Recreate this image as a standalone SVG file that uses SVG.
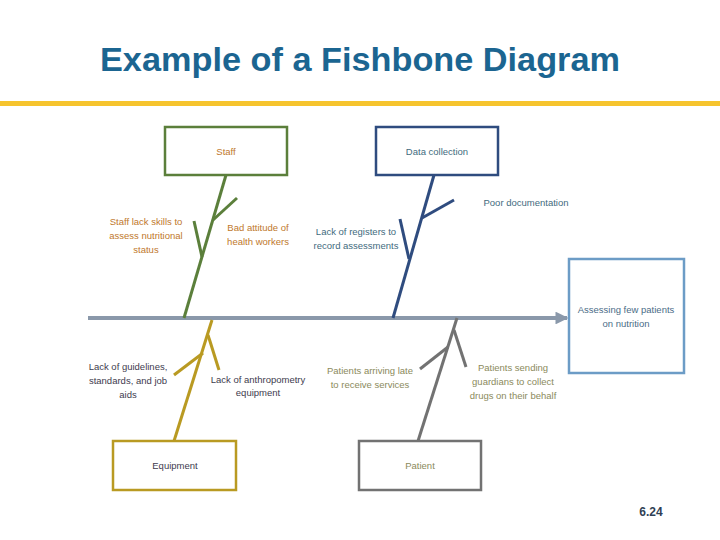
<svg xmlns="http://www.w3.org/2000/svg" width="720" height="540" viewBox="0 0 720 540">
<defs>
<style>
.t{font-family:"Liberation Sans",Arial,sans-serif;font-size:9.5px;text-anchor:middle}
.box{fill:#fff;stroke-width:2.5}
.bone{fill:none;stroke-width:3;stroke-linecap:butt}
.or{fill:#c0782c}.tl{fill:#3f6b7e}.dk{fill:#3e3b4e}.ol{fill:#8b8a5c}
</style>
<marker id="ah" viewBox="0 0 10 10" refX="9" refY="5" markerWidth="3.2" markerHeight="3.2" orient="auto" markerUnits="strokeWidth">
<path d="M0,0 L10,5 L0,10 z" fill="#8a98aa"/>
</marker>
</defs>
<rect width="720" height="540" fill="#fff"/>
<text x="360" y="71" font-family="Liberation Sans,Arial,sans-serif" font-weight="bold" font-size="34" fill="#1b6591" text-anchor="middle" textLength="520" lengthAdjust="spacingAndGlyphs">Example of a Fishbone Diagram</text>
<rect x="0" y="101" width="720" height="5" fill="#f6c42e"/>

<g id="connectors">
<line x1="88" y1="318" x2="567" y2="318" stroke="#8a98aa" stroke-width="4" marker-end="url(#ah)"/>
<g stroke="#5b7f3b" class="bone">
<line x1="226" y1="175" x2="184" y2="318"/>
<line x1="213" y1="220" x2="237" y2="198"/>
<line x1="202" y1="257" x2="194" y2="221"/>
</g>
<g stroke="#2f4c7f" class="bone">
<line x1="434" y1="175" x2="393" y2="318"/>
<line x1="422" y1="218" x2="454" y2="200"/>
<line x1="409" y1="259" x2="400" y2="219"/>
</g>
<g stroke="#b99a22" class="bone">
<line x1="174" y1="441" x2="212" y2="320"/>
<line x1="203" y1="353" x2="174" y2="375"/>
<line x1="208" y1="335" x2="219" y2="370"/>
</g>
<g stroke="#727272" class="bone">
<line x1="418" y1="441" x2="457" y2="318"/>
<line x1="448" y1="347" x2="420" y2="369"/>
<line x1="454" y1="330" x2="466" y2="367"/>
</g>
</g>

<g id="staff">
<rect class="box" x="165" y="127" width="122" height="48" stroke="#5b7f3b"/>
<text class="t or" x="226" y="155">Staff</text>
</g>
<g id="data-collection">
<rect class="box" x="376" y="127" width="122" height="48" stroke="#2f4c7f"/>
<text class="t tl" x="437" y="155">Data collection</text>
</g>
<g id="effect">
<rect class="box" x="569" y="259" width="115" height="114" stroke="#6c9cc6"/>
<text class="t" fill="#4b6c87" x="626" y="313">Assessing few patients</text>
<text class="t" fill="#4b6c87" x="626" y="327">on nutrition</text>
</g>
<g id="equipment">
<rect class="box" x="113" y="441" width="123" height="49" stroke="#b99a22"/>
<text class="t dk" x="175" y="469">Equipment</text>
</g>
<g id="patient">
<rect class="box" x="359" y="441" width="122" height="49" stroke="#727272"/>
<text class="t ol" x="420" y="469">Patient</text>
</g>

<g id="cause-staff-skills">
<text class="t or" x="146" y="225">Staff lack skills to</text>
<text class="t or" x="146" y="239">assess nutritional</text>
<text class="t or" x="146" y="253">status</text>
</g>
<g id="cause-bad-attitude">
<text class="t or" x="258" y="231">Bad attitude of</text>
<text class="t or" x="258" y="245">health workers</text>
</g>
<g id="cause-poor-doc">
<text class="t tl" x="526" y="206">Poor documentation</text>
</g>
<g id="cause-registers">
<text class="t tl" x="356" y="235">Lack of registers to</text>
<text class="t tl" x="356" y="249">record assessments</text>
</g>
<g id="cause-guidelines">
<text class="t dk" x="128" y="370">Lack of guidelines,</text>
<text class="t dk" x="128" y="384">standards, and job</text>
<text class="t dk" x="128" y="398">aids</text>
</g>
<g id="cause-anthropometry">
<text class="t dk" x="258" y="383">Lack of anthropometry</text>
<text class="t dk" x="258" y="396">equipment</text>
</g>
<g id="cause-arriving-late">
<text class="t ol" x="370" y="374">Patients arriving late</text>
<text class="t ol" x="370" y="388">to receive services</text>
</g>
<g id="cause-guardians">
<text class="t ol" x="513" y="371">Patients sending</text>
<text class="t ol" x="513" y="385">guardians to collect</text>
<text class="t ol" x="513" y="399">drugs on their behalf</text>
</g>
<text x="651" y="516" font-family="Liberation Sans,Arial,sans-serif" font-weight="bold" font-size="12" fill="#2f3f55" text-anchor="middle">6.24</text>
</svg>
